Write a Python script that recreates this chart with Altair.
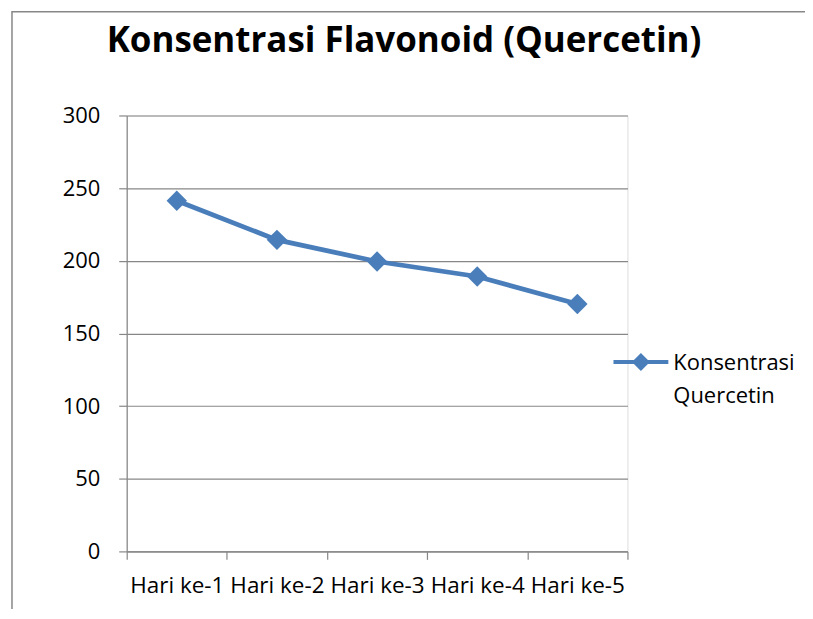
import altair as alt
import pandas as pd

days = ["Hari ke-1", "Hari ke-2", "Hari ke-3", "Hari ke-4", "Hari ke-5"]
values = [241.3, 214.4, 199.5, 189.2, 170.3]
series_name = "Konsentrasi Quercetin"
y_ticks = [0, 50, 100, 150, 200, 250, 300]

df = pd.DataFrame({"day": days, "val": values, "series": [series_name] * len(days)})

FONT = "Open Sans"
BLUE = "#4A7EBB"
GRAY = "#878787"

# legend glyph: thick line with a diamond, shifted up to sit on the first label line
legend_path = ("M-1,-0.36L-0.255,-0.36L0,-0.615L0.255,-0.36L1,-0.36L1,-0.21"
               "L0.255,-0.21L0,0.045L-0.255,-0.21L-1,-0.21Z")

x = alt.X("day:N", sort=days,
          scale=alt.Scale(type="band", paddingInner=0, paddingOuter=0),
          axis=alt.Axis(title=None, labelAngle=0, tickBand="extent", tickSize=8,
                        tickColor=GRAY, domainColor=GRAY, labelColor="black",
                        labelFont=FONT, labelFontSize=22.5, labelPadding=15,
                        labelOverlap=False, grid=False, tickWidth=1.2, domainWidth=1.2))
y = alt.Y("val:Q", scale=alt.Scale(domain=[0, 300], nice=False),
          axis=alt.Axis(title=None, values=y_ticks, grid=True, gridColor=GRAY,
                        gridWidth=1.2, tickSize=8, tickColor=GRAY, tickWidth=1.2,
                        domainColor=GRAY, domainWidth=1.2, labelColor="black",
                        labelFont=FONT, labelFontSize=22, labelPadding=19))
color = alt.Color("series:N", scale=alt.Scale(range=[BLUE]),
                  legend=alt.Legend(orient="none", legendX=488, legendY=227.5, title=None,
                                    padding=0, symbolType=legend_path, symbolSize=3025,
                                    symbolFillColor=BLUE, symbolStrokeColor=BLUE,
                                    symbolStrokeWidth=0,
                                    labelFont=FONT, labelFontSize=22, labelColor="black",
                                    labelOffset=5, labelExpr="split(datum.label, ' ')",
                                    labelBaseline="alphabetic", labelLimit=300))

base = alt.Chart(df).encode(x=x, y=y, color=color)
line = base.mark_line(strokeWidth=4.8)
points = base.mark_point(shape="diamond", filled=True, size=420, opacity=1)

border = alt.Chart(alt.Data(values=[{"b": 1}])).mark_rect(
    fill=None, stroke=GRAY, strokeWidth=1.5
).encode(x=alt.value(-115), y=alt.value(-104), x2=alt.value(760), y2=alt.value(560))

chart = alt.layer(border, line, points).properties(
    width=502, height=437,
    autosize=alt.AutoSizeParams(type="none"),
    padding={"left": 119, "top": 107, "right": 178, "bottom": 57},
    title=alt.Title("Konsentrasi Flavonoid (Quercetin)", font=FONT, fontSize=35,
                    fontWeight="bold", color="black", anchor="middle", frame="group",
                    dx=27, dy=76.5, baseline="alphabetic", offset=0),
).configure_view(stroke=None).configure(
    background="white",
    style={"guide-label": {"lineHeight": 33}},
)

chart.save("out.html", embed_options={"renderer": "svg", "actions": False})
